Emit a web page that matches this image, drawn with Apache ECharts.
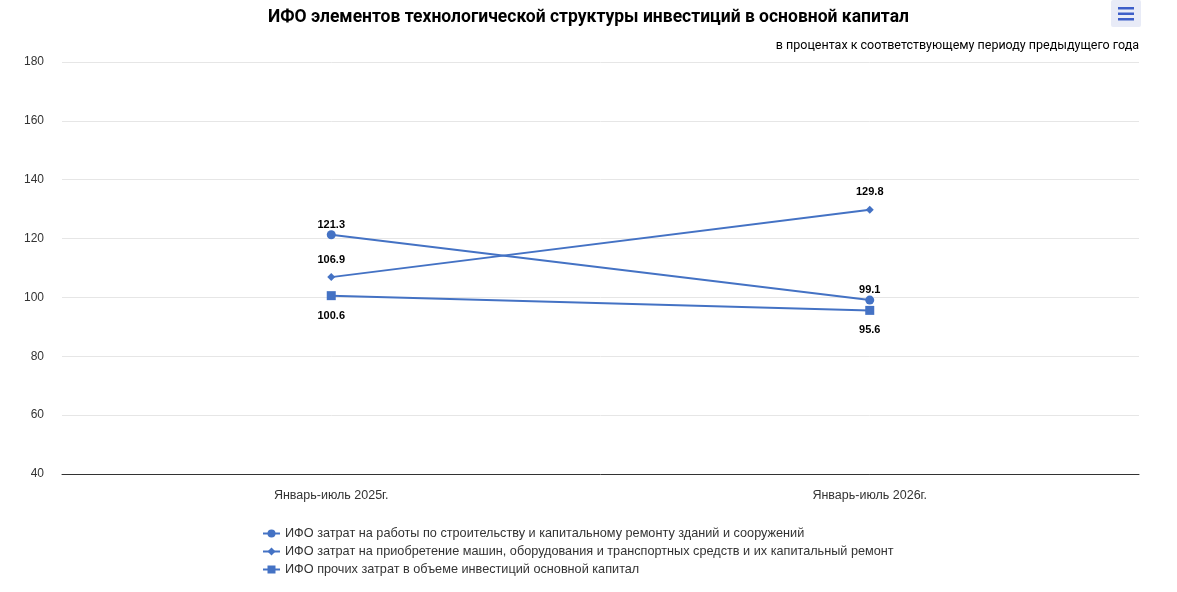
<!DOCTYPE html>
<html><head><meta charset="utf-8">
<script src="https://cdn.jsdelivr.net/npm/echarts@6/dist/echarts.min.js"></script>
<style>html,body{margin:0;padding:0;background:#fff}#c{width:1177px;height:592px}</style>
</head><body><div id="c"></div>
<script>
const categories = ['Январь-июль 2025г.', 'Январь-июль 2026г.'];
const seriesNames = [
  'ИФО затрат на работы по строительству и капитальному ремонту зданий и сооружений',
  'ИФО затрат на приобретение машин, оборудования и транспортных средств и их капитальный ремонт',
  'ИФО прочих затрат в объеме инвестиций основной капитал'
];
const construction = [121.3, 99.1];
const machinery = [106.9, 129.8];
const other = [100.6, 95.6];
const yTicks = {min: 40, max: 180, interval: 20};

const color = '#4472C4';
const chart = echarts.init(document.getElementById('c'));
function mk(name, data, symbol, size, pos, dist) {
  return {
    name, type: 'line', data, symbol, symbolSize: size,
    lineStyle: {color, width: 2}, itemStyle: {color},
    label: {show: true, position: pos, distance: dist, color: '#000', fontWeight: 'bold', fontSize: 11, fontFamily: 'Arial, Liberation Sans'}
  };
}
chart.setOption({
  animation: false,
  title: [{
    text: 'ИФО элементов технологической структуры инвестиций в основной капитал',
    left: 'center', top: 4,
    textStyle: {fontSize: 17.5, fontWeight: 'bold', color: '#000', fontFamily: 'Roboto'}
  }, {
    text: 'в процентах к соответствующему периоду предыдущего года',
    right: 33, top: 34,
    textStyle: {fontSize: 12.5, fontWeight: 'normal', color: '#000', fontFamily: 'Roboto'}
  }],
  graphic: [
    {type: 'rect', shape: {x: 1111, y: 0, width: 30, height: 27, r: 2}, style: {fill: '#e8ebf7'}},
    {type: 'rect', shape: {x: 1118, y: 7, width: 16, height: 2.5}, style: {fill: '#3d5ec9'}},
    {type: 'rect', shape: {x: 1118, y: 12.5, width: 16, height: 2.5}, style: {fill: '#3d5ec9'}},
    {type: 'rect', shape: {x: 1118, y: 18, width: 16, height: 2.5}, style: {fill: '#3d5ec9'}}
  ],
  grid: {left: 62, right: 38, top: 62, bottom: 118},
  legend: {
    orient: 'vertical', left: 257, top: 522, itemGap: 5, itemWidth: 17, itemHeight: 10,
    textStyle: {fontSize: 12.7, color: '#333', fontFamily: 'Arial, Liberation Sans'},
    data: seriesNames
  },
  xAxis: {
    type: 'category', data: categories, boundaryGap: true,
    axisLine: {lineStyle: {color: '#333', width: 1}},
    axisTick: {show: false},
    axisLabel: {color: '#333', fontSize: 12.5, margin: 15, fontFamily: 'Arial, Liberation Sans'}
  },
  yAxis: {
    type: 'value', min: yTicks.min, max: yTicks.max, interval: yTicks.interval,
    axisLine: {show: false}, axisTick: {show: false},
    axisLabel: {color: '#333', fontSize: 12, margin: 18, fontFamily: 'Arial, Liberation Sans'},
    splitLine: {lineStyle: {color: '#e6e6e6'}}
  },
  series: [
    mk(seriesNames[0], construction, 'circle', 9, 'top', 0),
    mk(seriesNames[1], machinery, 'diamond', 8, 'top', 8),
    mk(seriesNames[2], other, 'rect', 9, 'bottom', 10)
  ]
});
</script></body></html>
